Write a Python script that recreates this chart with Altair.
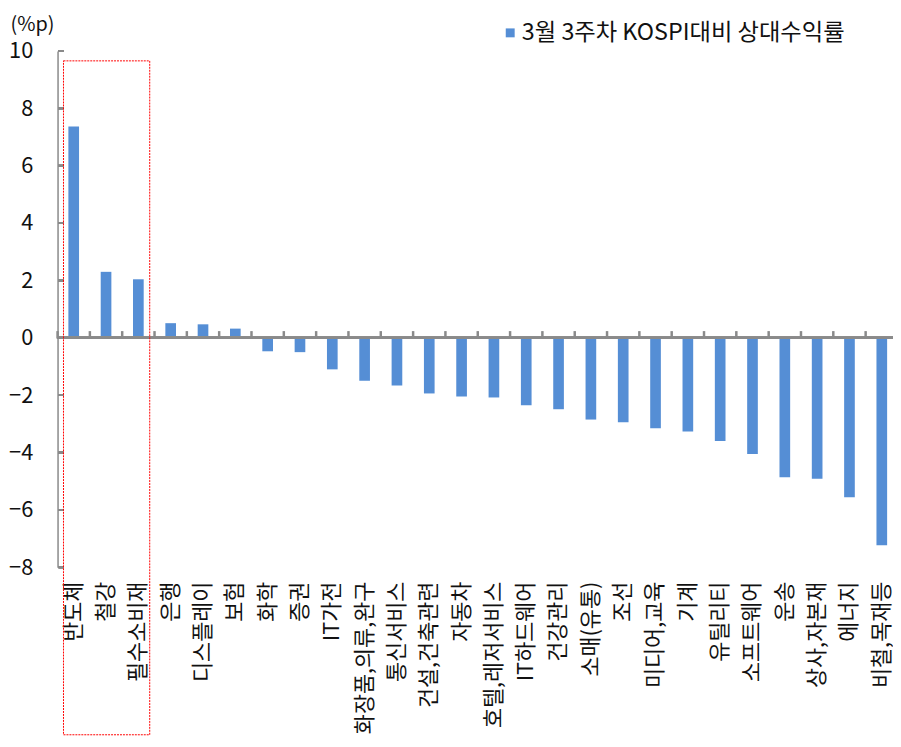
import altair as alt
import pandas as pd

categories = ["반도체", "철강", "필수소비재", "은행", "디스플레이", "보험", "화학", "증권",
              "IT가전", "화장품,의류,완구", "통신서비스", "건설,건축관련", "자동차",
              "호텔,레저서비스", "IT하드웨어", "건강관리", "소매(유통)", "조선",
              "미디어,교육", "기계", "유틸리티", "소프트웨어", "운송", "상사,자본재",
              "에너지", "비철,목재등"]
values = [7.37, 2.30, 2.04, 0.51, 0.47, 0.32, -0.47, -0.50, -1.10, -1.50, -1.66,
          -1.94, -2.05, -2.08, -2.35, -2.49, -2.85, -2.94, -3.15, -3.27, -3.60,
          -4.05, -4.86, -4.91, -5.56, -7.23]
series_name = "3월 3주차 KOSPI대비 상대수익률"
y_ticks = [-8, -6, -4, -2, 0, 2, 4, 6, 8, 10]

df = pd.DataFrame({"cat": categories, "val": values, "series": series_name})

FONT = "Noto Sans CJK KR"
GREY = "#8a8a8a"
W, H = 843, 521
STEP = 848 / len(categories)

xscale = alt.Scale(domain=categories, paddingInner=0.67, paddingOuter=0.335, range=[0, 848])
yscale = alt.Scale(domain=[-8, 10], nice=False, zero=False, padding=0)

base = alt.Chart(df)

bars = base.mark_bar(color="#558ed5").encode(
    x=alt.X("cat:N", sort=categories, scale=xscale,
            axis=alt.Axis(orient="bottom", title=None, labelAngle=-90, labelAlign="right",
                          labelBaseline="middle", labelPadding=14, labelFontSize=22,
                          labelFont=FONT, labelColor="#111", domain=False, ticks=False,
                          labelOverlap=False, labelLimit=300)),
    y=alt.Y("val:Q", scale=yscale,
            axis=alt.Axis(orient="left", values=y_ticks, labelFontSize=22, labelFont=FONT,
                          labelColor="#111", labelPadding=25, ticks=False, grid=False,
                          domainColor=GREY, domainWidth=1.5,
                          title="(%p)", titleAngle=0, titleAlign="left", titleX=-48,
                          titleY=-21, titleBaseline="alphabetic", titleFont=FONT,
                          titleFontSize=20, titleFontWeight="normal", titleColor="#111")),
    color=alt.Color("series:N", scale=alt.Scale(range=["#558ed5"]),
                    legend=alt.Legend(title=None, orient="none", legendX=445, legendY=-30,
                                      symbolType="square", symbolSize=81, symbolStrokeWidth=0,
                                      labelFont=FONT, labelFontSize=23.5, labelColor="#111",
                                      labelOffset=0, padding=0, labelLimit=500)),
)

# category axis line at zero: a thin filled band across the plot
zero_band = base.mark_bar(color=GREY, height=1.6).encode(
    y=alt.datum(0.00001), x=alt.value(1), x2=alt.value(W + 20)
)
zero_rule = base.mark_rule(color=GREY, strokeWidth=2).encode(y=alt.datum(0.00001))

# category tick marks at band boundaries, pointing up from zero
x_ticks = base.mark_tick(stroke=GREY, strokeWidth=1.5, orient="vertical", size=6, opacity=1,
                         xOffset=-STEP / 2, yOffset=-3).encode(
    x=alt.X("cat:N", sort=categories, scale=xscale),
    y=alt.datum(0.00001),
)

# value-axis tick marks pointing inward (thin filled bands)
y_tick_layers = [
    base.mark_bar(color=GREY, height=1.6).encode(
        y=alt.datum(v if v != 0 else 0.00001), x=alt.value(1), x2=alt.value(6))
    for v in y_ticks
]

box = alt.Chart(pd.DataFrame({"k": [0]})).mark_rect(
    fillOpacity=0, stroke="#ff0000", strokeWidth=1, strokeDash=[2, 1]
).encode(x=alt.value(6), x2=alt.value(93), y=alt.value(10), y2=alt.value(690))

chart = alt.layer(bars, zero_band, zero_rule, x_ticks, *y_tick_layers, box).properties(
    width=W, height=H,
    autosize=alt.AutoSizeParams(type="none"),
    padding={"left": 50, "top": 40, "right": 0, "bottom": 178},
).configure_view(stroke=None)

chart.save("out.html", embed_options={"renderer": "svg", "actions": False})
